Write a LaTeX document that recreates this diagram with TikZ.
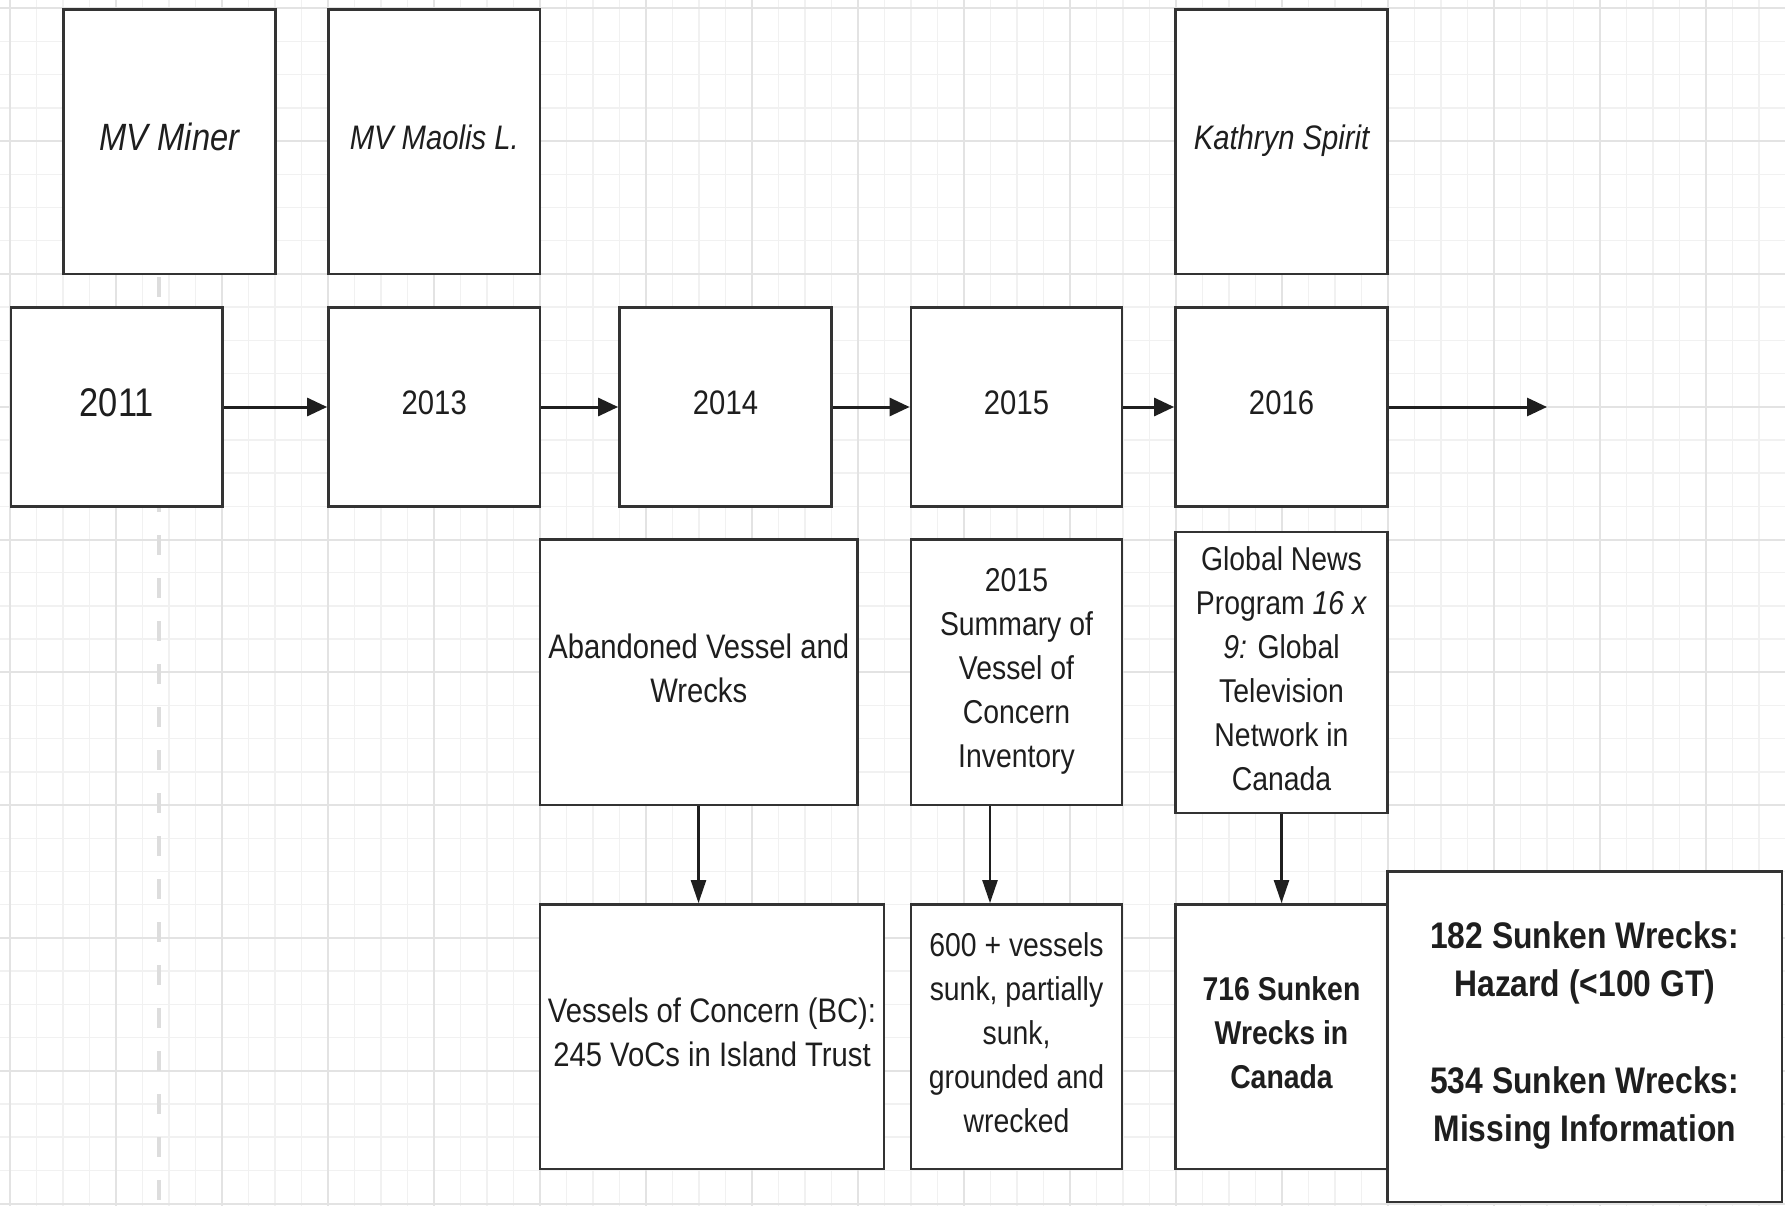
\documentclass[tikz,border=0pt]{standalone}
\usepackage{fontspec}
\setmainfont{Liberation Sans}[FakeStretch=0.86]
\usetikzlibrary{arrows.meta}
\definecolor{boxc}{HTML}{333333}
\definecolor{txt}{HTML}{1E1E1E}
\definecolor{gmin}{HTML}{F1F1F1}
\definecolor{gmaj}{HTML}{E3E3E3}
\definecolor{dashc}{HTML}{DDDDDD}
\newcommand\tstr{\rule{0pt}{0.92em}}
\newcommand\bstr{\rule[-0.46em]{0pt}{0.46em}}
\begin{document}
\begin{tikzpicture}[x=1pt,y=-1pt,
  box/.style={draw=boxc, line width=2.8pt, fill=white, align=center, text=txt, inner sep=0pt},
  harrow/.style={draw=black!88, line width=3pt, -{Triangle[length=20pt,width=18pt]}},
  varrow/.style={draw=black!88, line width=2.4pt, -{Triangle[length=23pt,width=15pt]}},
  fa/.style={font=\fontsize{34}{44}\selectfont},
  fb/.style={font=\fontsize{33}{44}\selectfont},
]
\fill[white] (0,0) rectangle (1785,1206);
\useasboundingbox (0,0) rectangle (1785,1206);
% grid
\foreach \i in {0,...,67} \draw[gmin, line width=1.5pt] ({10+26.5*\i},0) -- ({10+26.5*\i},1206);
\foreach \j in {0,...,36} \draw[gmin, line width=1.5pt] (0,{8.3+33.2*\j}) -- (1785,{8.3+33.2*\j});
\foreach \i in {0,...,16} \draw[gmaj, line width=2pt] ({10+106*\i},0) -- ({10+106*\i},1206);
\foreach \j in {0,...,9} \draw[gmaj, line width=2pt] (0,{8.3+132.8*\j}) -- (1785,{8.3+132.8*\j});
% dashed guide
\coordinate (dtop) at (159,277);
\coordinate (dbot) at (159,1206);
\draw[dashc, line width=4pt, dash pattern=on 20pt off 23pt] (dtop) -- (dbot);

% top row
\node[box, minimum width=212pt, minimum height=264.7pt, font=\fontsize{38}{48}\selectfont\itshape] (miner) at (169.5,141.65) {\tstr MV Miner\bstr};
\node[box, minimum width=211.5pt, minimum height=264.7pt, font=\fontsize{34}{44}\selectfont\itshape] (maolis) at (434.25,141.65) {\tstr MV Maolis L.\bstr};
\node[box, minimum width=212pt, minimum height=264.7pt, font=\fontsize{34}{44}\selectfont\itshape] (kath) at (1281.5,141.65) {\tstr Kathryn Spirit\bstr};

% year row
\node[box, minimum width=211.5pt, minimum height=199pt, font=\fontsize{40}{48}\selectfont] (y2011) at (116.75,407) {\tstr 2011\bstr};
\node[box, minimum width=211.5pt, minimum height=199pt, fa] (y2013) at (434.25,407) {\tstr 2013\bstr};
\node[box, minimum width=212pt, minimum height=199pt, fa] (y2014) at (725.5,407) {\tstr 2014\bstr};
\node[box, minimum width=211pt, minimum height=199pt, fa] (y2015) at (1016.5,407) {\tstr 2015\bstr};
\node[box, minimum width=212pt, minimum height=199pt, fa] (y2016) at (1281.5,407) {\tstr 2016\bstr};
\coordinate (endc) at (1547,407);

% source row
\node[box, minimum width=317.5pt, minimum height=265.5pt, fa] (aband) at (698.75,672.25) {\tstr Abandoned Vessel and\\Wrecks\bstr};
\node[box, minimum width=211pt, minimum height=265.5pt, fb] (summ) at (1016.5,672.25) {\tstr 2015\\Summary of\\Vessel of\\Concern\\Inventory\bstr};
\node[box, minimum width=212pt, minimum height=281pt, fb] (glob) at (1281.5,672.5) {\tstr Global News\\Program \textit{16 x}\\\textit{9:} Global\\Television\\Network in\\Canada\bstr};

% result row
\node[box, minimum width=344pt, minimum height=264.5pt, fa] (vess) at (712,1036.75) {\tstr Vessels of Concern (BC):\\245 VoCs in Island Trust\bstr};
\node[box, minimum width=211pt, minimum height=264.5pt, fb] (six) at (1016.5,1036.75) {\tstr 600 + vessels\\sunk, partially\\sunk,\\grounded and\\wrecked\bstr};
\node[box, minimum width=212pt, minimum height=264.5pt, font=\fontsize{33}{44}\selectfont\bfseries] (s716) at (1281.5,1036.75) {\tstr 716 Sunken\\Wrecks in\\Canada\bstr};
\node[box, minimum width=394.5pt, minimum height=330.5pt, font=\fontsize{37}{48.3}\selectfont\bfseries] (s182) at (1584.75,1036.75) {\tstr 182 Sunken Wrecks:\\Hazard (<100 GT)\\[48.3pt]534 Sunken Wrecks:\\Missing Information\bstr};

% connectors
\draw[harrow] (y2011) -- (y2013);
\draw[harrow] (y2013) -- (y2014);
\draw[harrow] (y2014) -- (y2015);
\draw[harrow] (y2015) -- (y2016);
\draw[harrow] (y2016.east) -- (endc);
\coordinate (ax) at (698.5,0);
\coordinate (sx) at (990,0);
\draw[varrow] (aband.south -| ax) -- (vess.north -| ax);
\draw[varrow] (summ.south -| sx) -- (six.north -| sx);
\draw[varrow] (glob.south) -- (s716.north);
\end{tikzpicture}
\end{document}
